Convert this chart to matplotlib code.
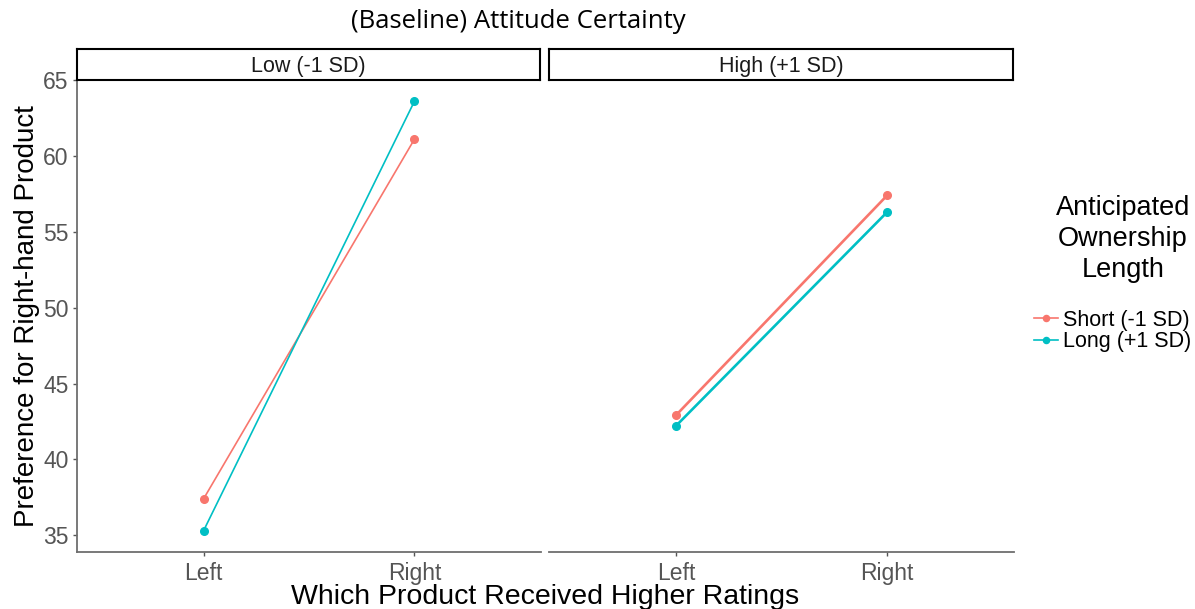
import matplotlib.pyplot as plt

# values
x_labels = ['Left', 'Right']
panels = ['Low (-1 SD)', 'High (+1 SD)']
short_low = [37.4, 61.1]
long_low = [35.3, 63.6]
short_high = [42.9, 57.4]
long_high = [42.2, 56.3]
series_names = ['Short (-1 SD)', 'Long (+1 SD)']
colors = ['#F8766D', '#00BFC4']
yticks = [35, 40, 45, 50, 55, 60, 65]

plt.rcParams['font.family'] = ['Liberation Sans', 'DejaVu Sans']

fig = plt.figure(figsize=(11.95, 6.09), dpi=100)
W, H = 1195, 609

def box(x0, y0, x1, y1):
    return [x0 / W, 1 - y1 / H, (x1 - x0) / W, (y1 - y0) / H]

panel_px = [(77, 541), (549, 1014)]
data = [(short_low, long_low), (short_high, long_high)]
widths = [1.2, 1.9]
axes = []
for i, ((x0, x1), (s, l)) in enumerate(zip(panel_px, data)):
    ax = fig.add_axes(box(x0, 80, x1, 552))
    xs = [0, 1]
    ax.plot(xs, s, color=colors[0], lw=widths[i], marker='o', ms=5.5, label=series_names[0])
    ax.plot(xs, l, color=colors[1], lw=widths[i], marker='o', ms=5.5, label=series_names[1])
    ax.set_xlim(-0.6, 1.6)
    ax.set_ylim(33.9, 65.0)
    ax.set_xticks(xs)
    ax.set_xticklabels(x_labels)
    for sp in ['top', 'right']:
        ax.spines[sp].set_visible(False)
    ax.spines['bottom'].set_color('#6e6e6e')
    ax.spines['bottom'].set_linewidth(1.3)
    if i == 0:
        ax.set_yticks(yticks)
        ax.spines['left'].set_color('#6e6e6e')
        ax.spines['left'].set_linewidth(1.3)
        ax.set_ylabel('Preference for Right-hand Product', fontsize=20, labelpad=2)
    else:
        ax.spines['left'].set_visible(False)
        ax.set_yticks([])
    ax.tick_params(colors='#555555', labelsize=16.5, length=3, width=1, pad=3)
    ax.tick_params(axis='x', pad=4)
    axes.append(ax)

    # facet strip
    st = fig.add_axes(box(x0, 49, x1 - 1, 80))
    st.set_xticks([])
    st.set_yticks([])
    for sp in st.spines.values():
        sp.set_color('black')
        sp.set_linewidth(1.5)
    st.text(0.5, 0.45, panels[i], ha='center', va='center', fontsize=15.5, color='#1a1a1a',
            transform=st.transAxes)

fig.text(545 / W, 1 - 597 / H, 'Which Product Received Higher Ratings', ha='center',
         va='center', fontsize=20.5)
fig.text(518 / W, 1 - 22 / H, '(Baseline) Attitude Certainty', ha='center', va='center',
         fontsize=18.5, family=['Open Sans', 'DejaVu Sans'])

# legend title and entries
fig.text(1123 / W, 1 - 239 / H, 'Anticipated\nOwnership\nLength', ha='center', va='center',
         multialignment='center', fontsize=19.5, linespacing=1.24)
handles, labels = axes[0].get_legend_handles_labels()
leg = fig.legend(handles, labels, loc='upper left', bbox_to_anchor=(1034 / W, 1 - 310 / H),
                 frameon=False, fontsize=15.5, borderpad=0, borderaxespad=0,
                 handlelength=1.1, handletextpad=0.25, labelspacing=0.02,
                 markerscale=0.8)

fig.savefig('out.png', dpi=100)
